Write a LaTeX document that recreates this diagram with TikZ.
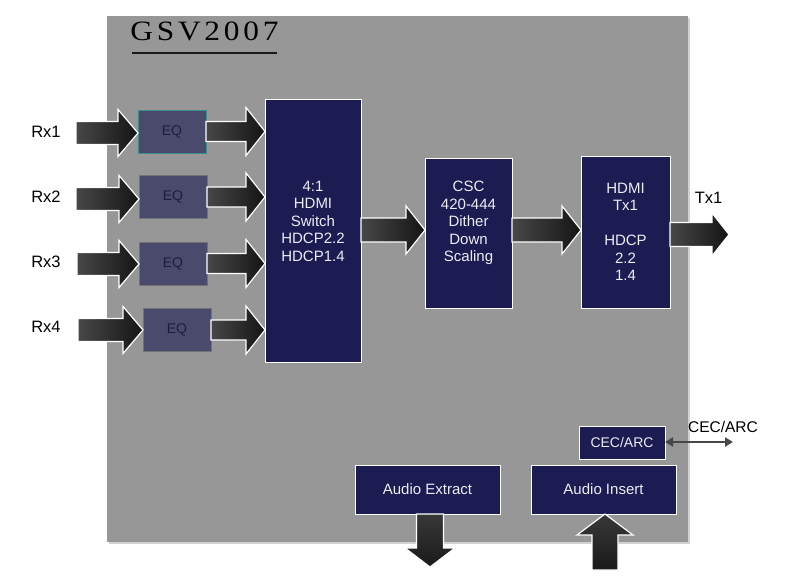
\documentclass[tikz,border=0pt]{standalone}
\usepackage{fontspec}
\setmainfont{Liberation Sans}
\newfontfamily\titlefont[LetterSpace=12]{Liberation Serif}
\usetikzlibrary{calc,arrows.meta,shadows}

\definecolor{chipgray}{HTML}{979797}
\definecolor{navy}{HTML}{1C1B52}
\definecolor{eqfill}{HTML}{4A4A6C}
\definecolor{eqteal}{HTML}{3E8C8C}
\definecolor{eqtext}{HTML}{1E1E3C}
\definecolor{boxtext}{HTML}{ECECF4}

\tikzset{
  chip/.style={fill=chipgray, draw=none, inner sep=0pt, outer sep=0pt,
    drop shadow={opacity=0.35, shadow xshift=2pt, shadow yshift=-2pt}},
  navybox/.style={fill=navy, draw=white, line width=1pt, inner sep=0pt, outer sep=0pt,
    text=boxtext, font=\fontsize{15}{17.5}\selectfont, align=center},
  eqbox/.style={fill=eqfill, draw=black!55, line width=0.8pt, inner sep=0pt, outer sep=0pt,
    minimum width=68pt, minimum height=43pt, text=eqtext, font=\fontsize{14}{16}\selectfont},
  boxlabel/.style={text=boxtext, font=\fontsize{15}{17.5}\selectfont, align=center, inner sep=0pt},
  lbl/.style={font=\fontsize{16.5}{19}\selectfont, text=black, inner sep=0pt},
  blkarr/.style={draw=white, line width=1.2pt, left color=black!72, right color=black!92},
  vblkarr/.style={draw=white, line width=1.2pt, top color=black!78, bottom color=black!90},
  cecarrow/.style={{Triangle[width=9pt,length=8pt]}-{Triangle[width=9pt,length=8pt]},
    line width=2.5pt, draw=black!72},
}

% \blockarrow[style]{start}{tip}{shaft half width}{head half width}{head length}
\newcommand{\blockarrow}[6][]{%
  \path (#2) coordinate (ba-s) (#3) coordinate (ba-t);
  \path ($(ba-t)!#6!(ba-s)$) coordinate (ba-b);
  \draw[blkarr,#1] ($(ba-s)!#4!90:(ba-t)$) -- ($(ba-b)!#4!90:(ba-t)$)
    -- ($(ba-b)!#5!90:(ba-t)$) -- (ba-t) -- ($(ba-b)!#5!-90:(ba-t)$)
    -- ($(ba-b)!#4!-90:(ba-t)$) -- ($(ba-s)!#4!-90:(ba-t)$) -- cycle;}

\begin{document}
\begin{tikzpicture}[x=1pt,y=-1pt]
\useasboundingbox[fill=white] (0,0) rectangle (792,584);

% chip background
\node[chip, minimum width=581pt, minimum height=526pt] (chip) at (397.5,279) {};

% title
\node[anchor=base, inner sep=0pt, font=\titlefont\fontsize{28}{30}\selectfont] (title) at (204.5,40)
  {\scalebox{1.12}[1]{GSV2007}};
\coordinate (ul1) at (132,53);
\coordinate (ul2) at (277,53);
\draw[line width=1.8pt, black!90] (ul1) -- (ul2);

% EQ boxes
\node[eqbox, draw=eqteal] (eq1) at (172,131.5) {EQ};
\node[eqbox] (eq2) at (173,197) {EQ};
\node[eqbox] (eq3) at (173,263.5) {EQ};
\node[eqbox] (eq4) at (177,330) {EQ};

% main blocks
\node[navybox, minimum width=96pt, minimum height=263pt] (sw) at (313,230.5) {};
\node[boxlabel] (swtext) at (313,221) {4:1\\HDMI\\Switch\\HDCP2.2\\HDCP1.4};
\node[navybox, minimum width=87pt, minimum height=150pt] (csc) at (468.5,233) {};
\node[boxlabel] (csctext) at (468.5,223) {CSC\\420-444\\Dither\\Down\\Scaling};
\node[navybox, minimum width=89pt, minimum height=152pt] (tx) at (625.5,232)
  {HDMI\\Tx1\\[17.5pt]HDCP\\2.2\\1.4};

\node[navybox, minimum width=86pt, minimum height=33pt, font=\fontsize{14}{16}\selectfont] (cec) at (622,442.5) {CEC/ARC};
\node[navybox, minimum width=145pt, minimum height=49pt] (ae) at (427.5,489.5) {Audio Extract};
\node[navybox, minimum width=145pt, minimum height=49pt] (ai) at (603.5,489.5) {Audio Insert};

% labels
\node[lbl] (rx1) at (46,132) {Rx1};
\node[lbl] (rx2) at (46,197) {Rx2};
\node[lbl] (rx3) at (46,262) {Rx3};
\node[lbl] (rx4) at (46,327) {Rx4};
\node[lbl] (tx1) at (708.5,198) {Tx1};
\node[lbl, font=\fontsize{15.5}{18}\selectfont] (ceclbl) at (723,427) {CEC/ARC};

% input arrows
\coordinate (r1s) at (76,133);
\coordinate (r2s) at (76,199);
\coordinate (r3s) at (77,264);
\coordinate (r4s) at (78,330);
\blockarrow{r1s}{eq1.west |- r1s}{11.5pt}{23.5pt}{20pt}
\blockarrow{r2s}{eq2.west |- r2s}{11.5pt}{23.5pt}{20pt}
\blockarrow{r3s}{eq3.west |- r3s}{11.5pt}{23.5pt}{20pt}
\blockarrow{r4s}{eq4.west |- r4s}{11.5pt}{23.5pt}{20pt}

% EQ -> switch
\blockarrow{eq1.east}{sw.west |- eq1.east}{10pt}{24pt}{19pt}
\blockarrow{eq2.east}{sw.west |- eq2.east}{10pt}{24pt}{19pt}
\blockarrow{eq3.east}{sw.west |- eq3.east}{10pt}{24pt}{19pt}
\blockarrow{eq4.east}{sw.west |- eq4.east}{10pt}{24pt}{19pt}

% main chain
\coordinate (chain) at (0,230);
\blockarrow{sw.east |- chain}{csc.west |- chain}{12pt}{24pt}{19pt}
\blockarrow{csc.east |- chain}{tx.west |- chain}{12pt}{24pt}{19pt}
\coordinate (txout) at (729,234.5);
\blockarrow{tx.east |- txout}{txout}{12pt}{21.5pt}{17pt}

% CEC/ARC
\coordinate (cecout) at (733,442);
\draw[cecarrow] (cec.east |- cecout) -- (cecout);

% audio arrows
\coordinate (aeout) at (430,567);
\blockarrow[vblkarr]{aeout |- ae.south}{aeout}{13.5pt}{25pt}{19pt}
\coordinate (aiin) at (605,570);
\blockarrow[vblkarr]{aiin}{aiin |- ai.south}{13pt}{28pt}{21pt}
\end{tikzpicture}
\end{document}
